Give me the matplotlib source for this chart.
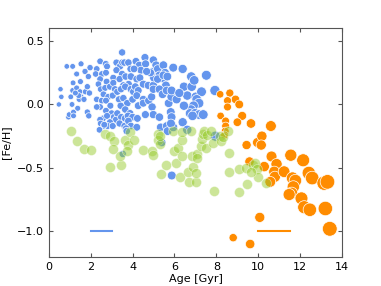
import numpy as np
import matplotlib
matplotlib.use('Agg')
import matplotlib.pyplot as plt

# young / thin-disc stars (blue)
blue_age = [0.48, 0.56, 0.60, 0.94, 0.97, 0.86, 1.14, 1.54, 1.97, 1.33, 1.73, 1.89, 1.51, 1.16, 1.14, 1.05,
            1.33, 1.49, 1.54, 1.75, 1.84, 1.94, 1.45, 1.11, 1.18, 1.18, 1.84, 1.91, 1.68, 1.43, 1.38, 1.27,
            2.45, 2.29, 2.72, 2.78, 2.24, 2.54, 2.73, 2.45, 2.76, 2.37, 3.08, 2.48, 2.69, 2.92, 3.08, 3.16,
            2.61, 2.84, 3.05, 2.29, 2.53, 2.73, 2.94, 2.45, 2.29, 2.73, 3.00, 2.59, 2.45, 2.78, 3.11, 3.21,
            2.92, 2.48, 2.62, 2.81, 3.05, 2.42, 2.65, 3.23, 3.40, 3.51, 3.50, 3.61, 3.80, 3.91, 3.23, 3.50,
            3.38, 3.67, 3.92, 3.81, 3.56, 3.27, 3.45, 3.65, 3.92, 4.04, 3.35, 3.56, 3.75, 4.00, 3.43, 3.65,
            3.88, 3.27, 3.46, 3.64, 3.78, 4.00, 3.38, 3.62, 3.80, 3.92, 3.69, 3.72,
            4.16, 4.32, 4.40, 4.59, 4.62, 4.07, 4.20, 4.35, 4.51, 4.75, 4.13, 4.27, 4.20, 4.51, 4.27, 4.51,
            4.77, 4.91, 4.99, 4.99, 5.01, 4.96, 4.99, 5.12, 5.20, 5.28, 5.47, 5.55, 5.50, 5.59, 5.28, 5.43,
            5.63, 4.93, 4.99, 5.28, 5.34, 5.63, 5.67, 4.23, 4.61, 4.20, 4.85, 5.20, 4.67, 5.47, 5.66, 5.72,
            5.85, 5.82, 5.86, 5.94, 5.86,
            6.39, 6.80, 6.45, 6.82, 6.94, 6.61, 7.02, 7.29, 7.06, 7.17, 6.91, 6.79, 6.74, 6.98, 7.18, 7.37,
            6.86, 6.45, 6.39, 6.61, 7.52, 7.93, 7.95, 5.94, 5.83, 6.10, 6.23,
            3.53, 5.39, 5.87]
blue_feh = [0.00, 0.12, 0.06, -0.10, -0.08, 0.30, 0.30, 0.32, 0.29, 0.24, 0.26, 0.22, 0.18, 0.17, 0.11, 0.06,
            0.13, 0.10, 0.06, 0.10, 0.14, 0.09, 0.04, 0.00, -0.06, -0.09, -0.06, -0.09, 0.04, 0.07, -0.03, 0.09,
            0.34, 0.28, 0.32, 0.30, 0.24, 0.24, 0.25, 0.20, 0.18, 0.16, 0.21, 0.12, 0.13, 0.14, 0.17, 0.12,
            0.08, 0.06, 0.07, 0.04, 0.03, 0.03, -0.01, -0.02, -0.02, -0.05, -0.07, -0.11, -0.12, -0.09, -0.10, -0.12,
            -0.14, -0.15, -0.17, -0.17, -0.17, -0.20, -0.16, 0.33, 0.30, 0.33, 0.41, 0.33, 0.33, 0.28, 0.27, 0.24,
            0.20, 0.22, 0.22, 0.16, 0.15, 0.10, 0.12, 0.14, 0.12, 0.10, 0.04, 0.05, 0.01, 0.04, -0.01, -0.04,
            -0.07, -0.07, -0.10, -0.11, -0.09, -0.10, -0.15, -0.17, -0.13, -0.17, -0.19, -0.21,
            0.34, 0.31, 0.27, 0.37, 0.32, 0.28, 0.20, 0.21, 0.16, 0.15, 0.14, 0.11, 0.07, 0.04, -0.01, 0.01,
            0.03, 0.06, 0.15, 0.12, 0.21, 0.26, 0.35, 0.31, 0.28, 0.23, 0.31, 0.25, 0.20, 0.15, 0.12, 0.08,
            0.11, -0.02, -0.08, -0.10, -0.18, -0.17, -0.21, -0.11, -0.08, -0.18, 0.25, 0.20, 0.26, 0.23, 0.22, 0.01,
            0.06, -0.06, -0.10, 0.29, 0.11,
            0.28, 0.22, 0.14, 0.14, 0.19, 0.07, 0.06, 0.10, 0.04, 0.01, -0.01, -0.04, -0.07, -0.07, -0.08, -0.08,
            -0.09, -0.01, -0.14, -0.20, 0.23, 0.11, -0.25, -0.18, -0.15, 0.04, 0.09,
            -0.39, -0.30, -0.56]

# intermediate stars (green)
green_age = [1.06, 1.33, 1.70, 2.00, 2.69, 2.92, 3.13, 3.08, 2.94, 3.43, 3.40, 3.64, 3.77, 3.72, 3.88, 4.08,
             4.48, 4.91, 4.96, 5.20, 5.23, 5.31, 5.36, 5.31, 5.59, 5.92, 5.97, 6.05, 6.26, 6.18, 6.34, 6.34,
             6.37, 6.63, 6.71, 6.80, 6.83, 6.86, 7.02, 7.02, 7.05, 7.08, 7.26, 7.31, 7.37, 7.42, 7.50, 7.53,
             7.74, 7.85, 7.87, 8.17, 8.22, 8.30, 8.59, 8.57, 8.60, 9.06, 9.06, 9.39, 9.44, 9.73, 9.84, 9.96,
             10.00, 10.36, 9.67]
green_feh = [-0.21, -0.29, -0.35, -0.36, -0.23, -0.25, -0.29, -0.35, -0.49, -0.48, -0.41, -0.28, -0.32, -0.37, -0.22, -0.28,
             -0.36, -0.37, -0.40, -0.23, -0.28, -0.31, -0.55, -0.25, -0.48, -0.21, -0.37, -0.46, -0.57, -0.34, -0.28, -0.41,
             -0.22, -0.53, -0.61, -0.21, -0.41, -0.49, -0.61, -0.54, -0.39, -0.42, -0.33, -0.27, -0.23, -0.21, -0.34, -0.24,
             -0.21, -0.30, -0.68, -0.25, -0.29, -0.26, -0.38, -0.21, -0.53, -0.51, -0.69, -0.50, -0.63, -0.48, -0.46, -0.51,
             -0.57, -0.62, -0.53]

# old stars (orange)
orange_age = [8.18, 8.64, 8.91, 8.53, 8.53, 9.09, 8.20, 8.44, 8.44, 8.42, 8.39, 9.23, 9.00, 9.65, 10.60, 9.44,
              9.96, 10.17, 10.14, 10.63, 9.58, 10.28, 10.87, 10.76, 10.79, 11.23, 11.55, 11.63, 11.77, 12.14, 10.57, 11.67,
              11.59, 11.47, 12.06, 12.19, 12.46, 12.41, 12.57, 13.14, 13.30, 13.20, 13.41, 10.07, 8.80, 9.61]
orange_feh = [0.08, 0.09, 0.04, 0.03, -0.02, 0.00, -0.09, -0.13, -0.17, -0.21, -0.24, -0.09, -0.14, -0.15, -0.17, -0.32,
              -0.30, -0.25, -0.32, -0.41, -0.45, -0.49, -0.47, -0.53, -0.57, -0.53, -0.40, -0.58, -0.60, -0.44, -0.61, -0.65,
              -0.70, -0.71, -0.74, -0.81, -0.83, -0.54, -0.58, -0.62, -0.61, -0.82, -0.98, -0.89, -1.05, -1.10]

# typical age error bars
blue_err = [2.0, 3.0]
orange_err = [10.0, 11.5]
err_feh = -1.0

blue_c = '#6495ED'
orange_c = '#FF8C00'
green_c = '#9ACD32'

def px_to_s(d):
    # marker diameter in pixels -> scatter size in points^2
    return (np.asarray(d) * 0.72) ** 2

fig = plt.figure(figsize=(3.81, 2.86), dpi=100)
ax = fig.add_axes([0.128, 0.1024, 0.770, 0.7986])

ba = np.array(blue_age)
oa = np.array(orange_age)
ax.scatter(ba, blue_feh, s=px_to_s(5.0 + 0.65 * ba), c=blue_c, edgecolors='white', linewidths=0.5, zorder=2)
ax.scatter(oa, orange_feh, s=px_to_s(1.4 * oa - 4.0), c=orange_c, edgecolors='white', linewidths=0.5, zorder=3)
ax.scatter(green_age, green_feh, s=px_to_s(10.0), c=green_c, alpha=0.5, edgecolors='white', linewidths=0.5, zorder=4)

ax.plot(blue_err, [err_feh, err_feh], color=blue_c, lw=1.5)
ax.plot(orange_err, [err_feh, err_feh], color=orange_c, lw=1.5)

ax.set_xlim(0, 14)
ax.set_ylim(-1.2, 0.6)
ax.set_xticks([0, 2, 4, 6, 8, 10, 12, 14])
ax.set_yticks([-1.0, -0.5, 0.0, 0.5])
ax.tick_params(direction='in', top=True, right=True, labelsize=8, length=3, color='#555555')
for sp in ax.spines.values():
    sp.set_color('#555555')
    sp.set_linewidth(0.8)
ax.set_xlabel('Age [Gyr]', fontsize=8, labelpad=2)
ax.set_ylabel('[Fe/H]', fontsize=8)

fig.savefig('out.png', dpi=100)
